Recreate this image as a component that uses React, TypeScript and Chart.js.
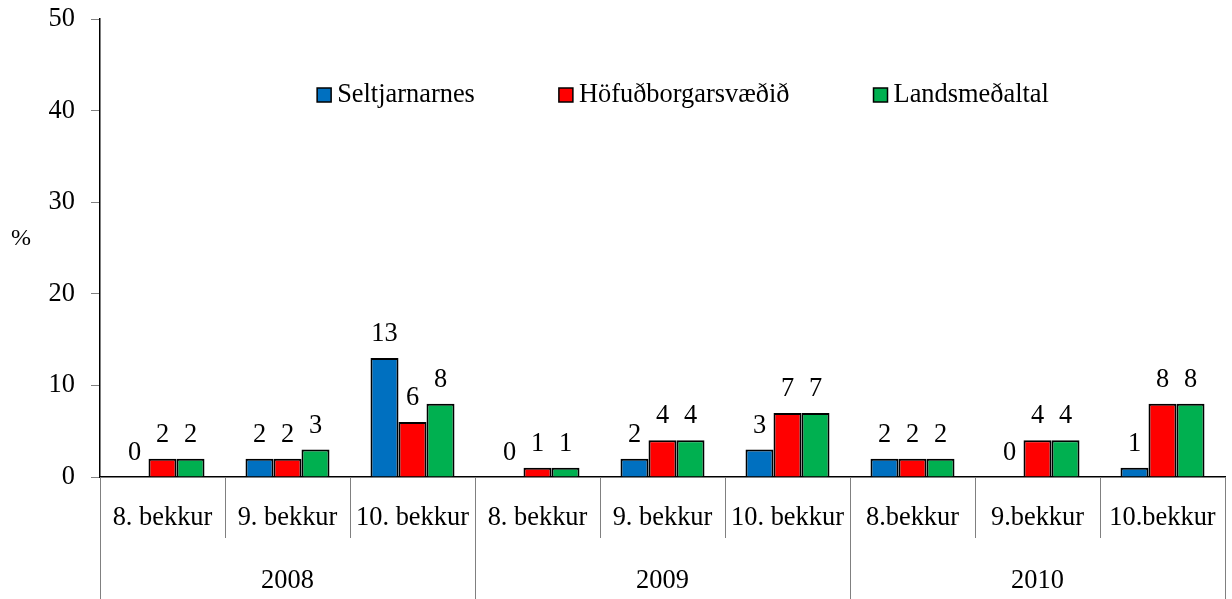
import React, { useEffect, useRef } from "react";
import { Chart, registerables } from "chart.js";

Chart.register(...registerables);

const categories = [
  "8. bekkur", "9. bekkur", "10. bekkur",
  "8. bekkur", "9. bekkur", "10. bekkur",
  "8.bekkur", "9.bekkur", "10.bekkur",
];
const years = ["2008", "2009", "2010"];
const seriesNames = ["Seltjarnarnes", "Höfuðborgarsvæðið", "Landsmeðaltal"];
const seltjarnarnes = [0, 2, 13, 0, 2, 3, 2, 0, 1];
const hofudborgarsvaedid = [2, 2, 6, 1, 4, 7, 2, 4, 8];
const landsmedaltal = [2, 3, 8, 1, 4, 7, 2, 4, 8];
const yMin = 0;
const yMax = 50;
const yStep = 10;
const yAxisLabel = "%";

const COLORS = ["#0070C0", "#FF0000", "#00B050"];
const FONT = '"Liberation Serif", "Times New Roman", serif';
const FS = 26.4;

const overlayPlugin = {
  id: "overlay",
  afterDraw(chart: any) {
    const ctx = chart.ctx as CanvasRenderingContext2D;
    const x = chart.scales.x;
    const area = chart.chartArea;
    const n = categories.length;
    const w = (x.right - x.left) / n;
    ctx.save();

    // category dividers
    ctx.strokeStyle = "#808080";
    ctx.lineWidth = 1;
    for (let i = 0; i <= n; i++) {
      const px = Math.round(x.left + i * w) + 0.5;
      const full = i % 3 === 0;
      ctx.beginPath();
      ctx.moveTo(px, x.top);
      ctx.lineTo(px, full ? chart.height : x.top + 61);
      ctx.stroke();
    }

    // category labels and years
    ctx.fillStyle = "#000";
    ctx.font = `${FS}px ${FONT}`;
    ctx.textAlign = "center";
    ctx.textBaseline = "alphabetic";
    categories.forEach((c, i) => {
      ctx.fillText(c, x.getPixelForValue(i), x.top + 48);
    });
    years.forEach((yr, g) => {
      const cx = (x.getPixelForValue(g * 3) + x.getPixelForValue(g * 3 + 2)) / 2;
      ctx.fillText(yr, cx, x.top + 111);
    });

    // data labels
    chart.data.datasets.forEach((ds: any, di: number) => {
      const meta = chart.getDatasetMeta(di);
      meta.data.forEach((el: any, i: number) => {
        ctx.fillText(String(ds.data[i]), el.x, el.y - 17);
      });
    });

    // axis title
    ctx.font = `24px ${FONT}`;
    ctx.textBaseline = "middle";
    ctx.fillText(yAxisLabel, 21, area.top + 0.48 * (area.bottom - area.top));

    // legend
    ctx.font = `${FS}px ${FONT}`;
    ctx.textAlign = "left";
    ctx.textBaseline = "alphabetic";
    const box = 14;
    const boxGap = 6;
    const itemGap = 84;
    const widths = seriesNames.map((s) => ctx.measureText(s).width);
    let lx = area.left + 0.193 * (area.right - area.left);
    const baseY = area.top + 83;
    seriesNames.forEach((s, i) => {
      ctx.fillStyle = COLORS[i];
      ctx.fillRect(lx, baseY - box, box, box);
      ctx.strokeStyle = "#000";
      ctx.lineWidth = 1.5;
      ctx.strokeRect(lx, baseY - box, box, box);
      ctx.fillStyle = "#000";
      ctx.fillText(s, lx + box + boxGap, baseY);
      lx += box + boxGap + widths[i] + itemGap;
    });

    ctx.restore();
  },
};

export default function App() {
  const ref = useRef<HTMLCanvasElement | null>(null);

  useEffect(() => {
    if (!ref.current) return;
    const series = [seltjarnarnes, hofudborgarsvaedid, landsmedaltal];
    const chart = new Chart(ref.current, {
      type: "bar",
      data: {
        labels: categories,
        datasets: series.map((d, i) => ({
          label: seriesNames[i],
          data: d,
          backgroundColor: COLORS[i],
          borderColor: "#000",
          borderWidth: 2,
          categoryPercentage: 0.672,
          barPercentage: 1,
        })),
      },
      options: {
        responsive: false,
        animation: false,
        devicePixelRatio: 1,
        layout: { padding: { top: 19, right: 7, left: 0, bottom: 0 } },
        plugins: {
          legend: { display: false },
          tooltip: { enabled: false },
          title: { display: false },
        },
        scales: {
          x: {
            grid: { display: false },
            border: { display: true, color: "#000", width: 1.5 },
            ticks: { display: false },
            afterFit: (s: any) => {
              s.height = 122;
              s.paddingLeft = 0;
              s.paddingRight = 0;
            },
          },
          y: {
            min: yMin,
            max: yMax,
            ticks: {
              stepSize: yStep,
              color: "#000",
              font: { family: FONT, size: FS },
              padding: 16,
            },
            grid: {
              display: true,
              drawOnChartArea: false,
              drawTicks: true,
              tickLength: 9,
              color: "#808080",
            },
            border: { display: true, color: "#000", width: 1.5 },
            afterFit: (s: any) => {
              s.width = 100;
              s.paddingTop = 0;
              s.paddingBottom = 0;
            },
          },
        },
      },
      plugins: [overlayPlugin],
    });
    return () => chart.destroy();
  }, []);

  return (
    <div style={{ position: "absolute", left: 0, top: 0, width: 1232, height: 599, background: "#fff" }}>
      <canvas ref={ref} width={1232} height={599} />
    </div>
  );
}
